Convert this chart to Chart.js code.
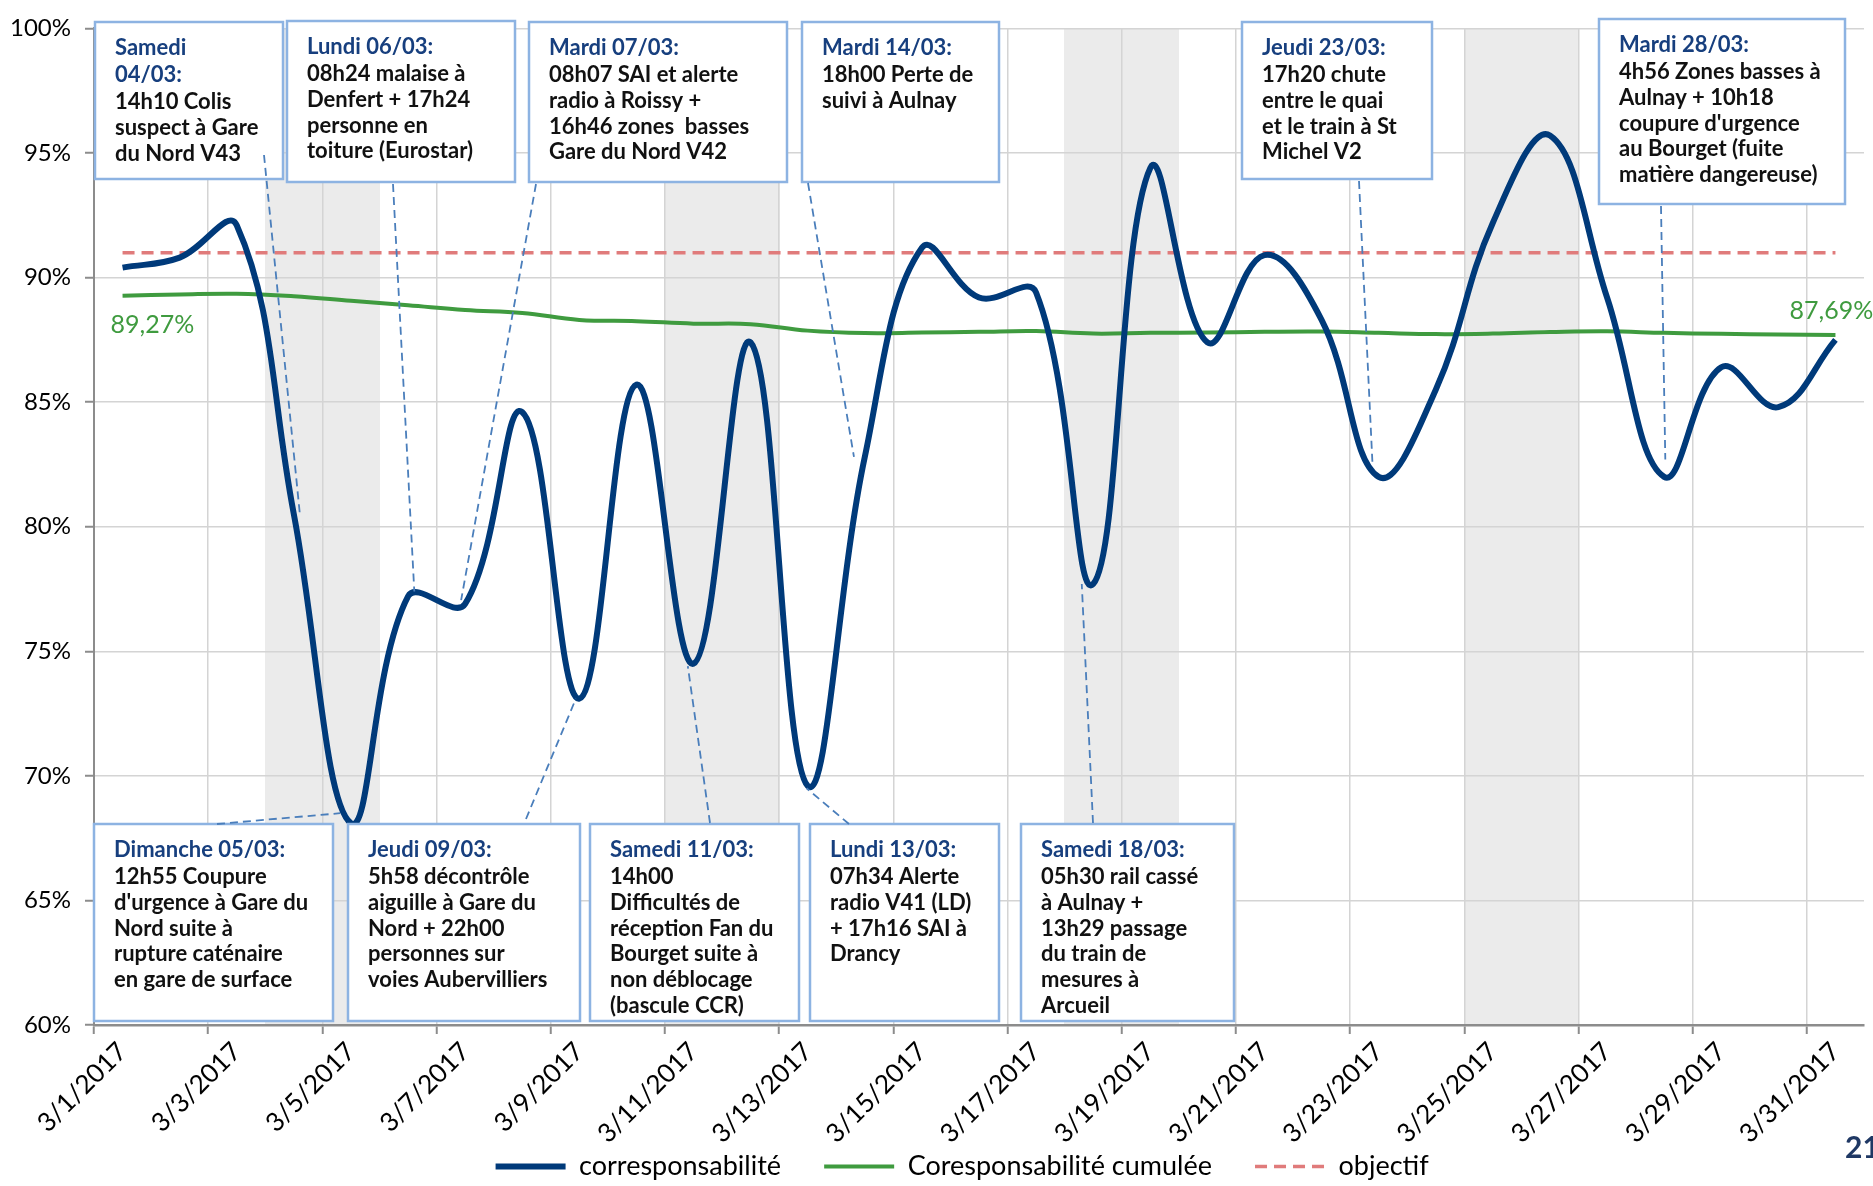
<!DOCTYPE html>
<html>
<head>
<meta charset="utf-8">
<script src="https://cdn.jsdelivr.net/npm/chart.js@4.4.1/dist/chart.umd.min.js"></script>
<style>
  html, body { margin: 0; padding: 0; background: #fff; overflow: hidden; }
</style>
</head>
<body>
<canvas id="chart" width="1873" height="1186"></canvas>
<script>
// Data (March 2017)
const labels = [
    '3/1/2017', '3/2/2017', '3/3/2017', '3/4/2017', '3/5/2017', '3/6/2017', '3/7/2017', '3/8/2017',
    '3/9/2017', '3/10/2017', '3/11/2017', '3/12/2017', '3/13/2017', '3/14/2017', '3/15/2017', '3/16/2017',
    '3/17/2017', '3/18/2017', '3/19/2017', '3/20/2017', '3/21/2017', '3/22/2017', '3/23/2017', '3/24/2017',
    '3/25/2017', '3/26/2017', '3/27/2017', '3/28/2017', '3/29/2017', '3/30/2017', '3/31/2017'
];
const corresponsabilite = [
    90.4, 90.8, 92.1, 80.5, 68.1, 77.2, 76.9, 84.6, 73.1, 85.7, 74.5, 87.4, 69.6, 82.8, 91.2, 89.2,
    89.4, 77.7, 94.4, 87.4, 90.9, 88.3, 82.0, 85.5, 92.2, 95.7, 89.2, 82.0, 86.4, 84.8, 87.5
];
const cumulee = [
    89.27, 89.32, 89.35, 89.25, 89.07, 88.89, 88.70, 88.58, 88.30, 88.25, 88.15, 88.13, 87.87, 87.77, 87.79, 87.82,
    87.85, 87.75, 87.78, 87.79, 87.82, 87.83, 87.78, 87.73, 87.75, 87.81, 87.84, 87.78, 87.74, 87.71, 87.69
];
const objectif = [
    91, 91, 91, 91, 91, 91, 91, 91, 91, 91, 91, 91, 91, 91, 91, 91,
    91, 91, 91, 91, 91, 91, 91, 91, 91, 91, 91, 91, 91, 91, 91
];

// Event call-outs: box = [x, y, w, h] in pixels, from = pixel start, to = [category index, %]
const notes = [
    { title: ['Samedi', '04/03:'], body: ['14h10 Colis', 'suspect à Gare', 'du Nord V43'],
      box: [95, 22, 188, 157], from: [264, 155], to: [3.11, 80.4] },
    { title: ['Lundi 06/03:'], body: ['08h24 malaise à', 'Denfert + 17h24', 'personne en', 'toiture (Eurostar)'],
      box: [287, 21, 228, 161], from: [393, 184], to: [5.11, 77.4] },
    { title: ['Mardi 07/03:'], body: ['08h07 SAI et alerte', 'radio à Roissy +', '16h46 zones  basses', 'Gare du Nord V42'],
      box: [529, 22, 258, 160], from: [536, 184], to: [5.93, 77.05] },
    { title: ['Mardi 14/03:'], body: ['18h00 Perte de', 'suivi à Aulnay'],
      box: [802, 22, 197, 160], from: [808, 183], to: [12.81, 82.8] },
    { title: ['Jeudi 23/03:'], body: ['17h20 chute', 'entre le quai', 'et le train à St', 'Michel V2'],
      box: [1242, 22, 190, 157], from: [1359, 181], to: [21.89, 82.6] },
    { title: ['Mardi 28/03:'], body: ['4h56 Zones basses à', 'Aulnay + 10h18', "coupure d'urgence", 'au Bourget (fuite', 'matière dangereuse)'],
      box: [1599, 19, 246, 185], from: [1661, 206], to: [27.02, 82.7] },
    { title: ['Dimanche 05/03:'], body: ['12h55 Coupure', "d'urgence à Gare du", 'Nord suite à', 'rupture caténaire', 'en gare de surface'],
      box: [94, 824, 239, 197], from: [217, 824], to: [3.81, 68.5] },
    { title: ['Jeudi 09/03:'], body: ['5h58 décontrôle', 'aiguille à Gare du', 'Nord + 22h00', 'personnes sur', 'voies Aubervilliers'],
      box: [348, 824, 232, 197], from: [526, 819], to: [7.94, 73.1] },
    { title: ['Samedi 11/03:'], body: ['14h00', 'Difficultés de', 'réception Fan du', 'Bourget suite à', 'non déblocage', '(bascule CCR)'],
      box: [590, 824, 209, 197], from: [710, 823], to: [9.9, 74.4] },
    { title: ['Lundi 13/03:'], body: ['07h34 Alerte', 'radio V41 (LD)', '+ 17h16 SAI à', 'Drancy'],
      box: [810, 824, 189, 197], from: [849, 824], to: [11.98, 69.5] },
    { title: ['Samedi 18/03:'], body: ['05h30 rail cassé', 'à Aulnay +', '13h29 passage', 'du train de', 'mesures à', 'Arcueil'],
      box: [1021, 824, 213, 197], from: [1093, 823], to: [16.8, 77.7] }
];

const fmt = v => v.toFixed(2).replace('.', ',') + '%';

const notesPlugin = {
    id: 'notes',
    beforeDraw(chart) {
        // grey week-end bands
        const { ctx, chartArea: a, scales: { x } } = chart;
        ctx.save();
        ctx.fillStyle = '#ebebeb';
        labels.forEach((lab, i) => {
            const day = new Date(lab).getDay();
            if (day === 0 || day === 6) {
                const x0 = Math.floor(x.getPixelForValue(i - 0.5));
                const x1 = Math.ceil(x.getPixelForValue(i + 0.5));
                ctx.fillRect(x0, a.top, x1 - x0, a.bottom - a.top);
            }
        });
        ctx.restore();
    },
    afterDraw(chart) {
        const { ctx, scales: { x, y } } = chart;
        ctx.save();

        // first / last values of the cumulated series
        const pts = chart.getDatasetMeta(1).data;
        ctx.font = '25px Lato';
        ctx.fillStyle = '#3f9b3f';
        ctx.textBaseline = 'middle';
        ctx.textAlign = 'left';
        ctx.fillText(fmt(cumulee[0]), pts[0].x - 12, pts[0].y + 29);
        ctx.textAlign = 'center';
        ctx.fillText(fmt(cumulee[cumulee.length - 1]), pts[pts.length - 1].x - 4, pts[pts.length - 1].y - 24);

        // boxes
        notes.forEach(n => {
            const [bx, by, bw, bh] = n.box;
            ctx.fillStyle = '#ffffff';
            ctx.fillRect(bx, by, bw, bh);
            ctx.strokeStyle = '#8db3e2';
            ctx.lineWidth = 2.5;
            ctx.setLineDash([]);
            ctx.strokeRect(bx, by, bw, bh);

            ctx.textAlign = 'left';
            ctx.textBaseline = 'middle';
            ctx.font = 'bold 22px Lato';
            let ty = by + 26;
            n.title.forEach(t => {
                ctx.fillStyle = '#173f7e';
                ctx.fillText(t, bx + 20, ty);
                ty += 27;
            });
            n.body.forEach(t => {
                ctx.fillStyle = '#111111';
                ctx.fillText(t, bx + 20, ty);
                ty += 25.8;
            });
        });

        // dashed connectors
        ctx.strokeStyle = '#4a7ebb';
        ctx.lineWidth = 1.8;
        ctx.setLineDash([8, 5]);
        notes.forEach(n => {
            ctx.beginPath();
            ctx.moveTo(n.from[0], n.from[1]);
            ctx.lineTo(x.getPixelForValue(n.to[0]), y.getPixelForValue(n.to[1]));
            ctx.stroke();
        });

        // slide number
        ctx.setLineDash([]);
        ctx.font = 'bold 30px Lato';
        ctx.fillStyle = '#1f3864';
        ctx.textAlign = 'left';
        ctx.fillText('21', 1845, 1148);
        ctx.restore();
    }
};

const gridOn = (ctx, color) => (ctx.index % 2 === 0 ? color : 'rgba(0,0,0,0)');

const data = {
    labels: labels,
    datasets: [
        {
            label: 'corresponsabilité',
            data: corresponsabilite,
            borderColor: '#003a7a',
            backgroundColor: '#003a7a',
            borderWidth: 6,
            pointRadius: 0,
            pointStyle: 'line',
            tension: 0.4
        },
        {
            label: 'Coresponsabilité cumulée',
            data: cumulee,
            borderColor: '#3f9b3f',
            backgroundColor: '#3f9b3f',
            borderWidth: 4,
            pointRadius: 0,
            pointStyle: 'line',
            tension: 0.4
        },
        {
            label: 'objectif',
            data: objectif,
            borderColor: '#e07b7b',
            backgroundColor: '#e07b7b',
            borderWidth: 3.5,
            borderDash: [12, 7],
            pointRadius: 0,
            pointStyle: 'line',
            tension: 0
        }
    ]
};

const options = {
    responsive: false,
    animation: false,
    layout: { padding: { left: 0, right: 9, top: 21, bottom: -4 } },
    plugins: {
        legend: {
            position: 'bottom',
            fullSize: false,
            labels: {
                usePointStyle: true,
                pointStyleWidth: 70,
                padding: 6,
                color: '#000',
                font: { family: 'Lato', size: 27 },
                generateLabels: chart => Chart.defaults.plugins.legend.labels.generateLabels(chart)
                    .map((item, i) => {
                        item.lineDash = chart.data.datasets[i].borderDash || [];
                        // wider gap between entries, and a trailing one to balance the row
                        item.text += i < 2 ? '\u2003\u2002\u2009' : '\u2003\u2002';
                        return item;
                    })
            }
        },
        tooltip: { enabled: false }
    },
    scales: {
        x: {
            offset: true,
            afterFit: scale => { scale.height = 122; },
            grid: {
                offset: true,
                color: ctx => gridOn(ctx, '#d4d4d4'),
                lineWidth: 1.5,
                borderDash: [2, 3],
                tickColor: ctx => gridOn(ctx, '#8c8c8c'),
                tickLength: 9,
                tickWidth: 2,
                tickBorderDash: []
            },
            border: { color: '#8c8c8c', width: 2.5 },
            ticks: {
                autoSkip: false,
                maxRotation: 45,
                minRotation: 45,
                padding: 2,
                color: '#000',
                font: { family: 'Lato', size: 26 },
                callback: function (value, index) {
                    return index % 2 === 0 ? this.getLabelForValue(value) : '';
                }
            }
        },
        y: {
            min: 60,
            max: 100,
            afterFit: scale => { scale.width = 94; },
            grid: {
                color: '#d4d4d4',
                lineWidth: 1.5,
                borderDash: [2, 3],
                tickColor: '#8c8c8c',
                tickLength: 9,
                tickWidth: 2,
                tickBorderDash: []
            },
            border: { color: '#8c8c8c', width: 2 },
            ticks: {
                stepSize: 5,
                padding: 14,
                color: '#000',
                font: { family: 'Lato', size: 24 },
                callback: v => v + '%'
            }
        }
    }
};

const ctx = document.getElementById('chart').getContext('2d');
const myChart = new Chart(ctx, {
    type: 'line',
    data: data,
    options: options,
    plugins: [notesPlugin]
});
</script>
</body>
</html>
